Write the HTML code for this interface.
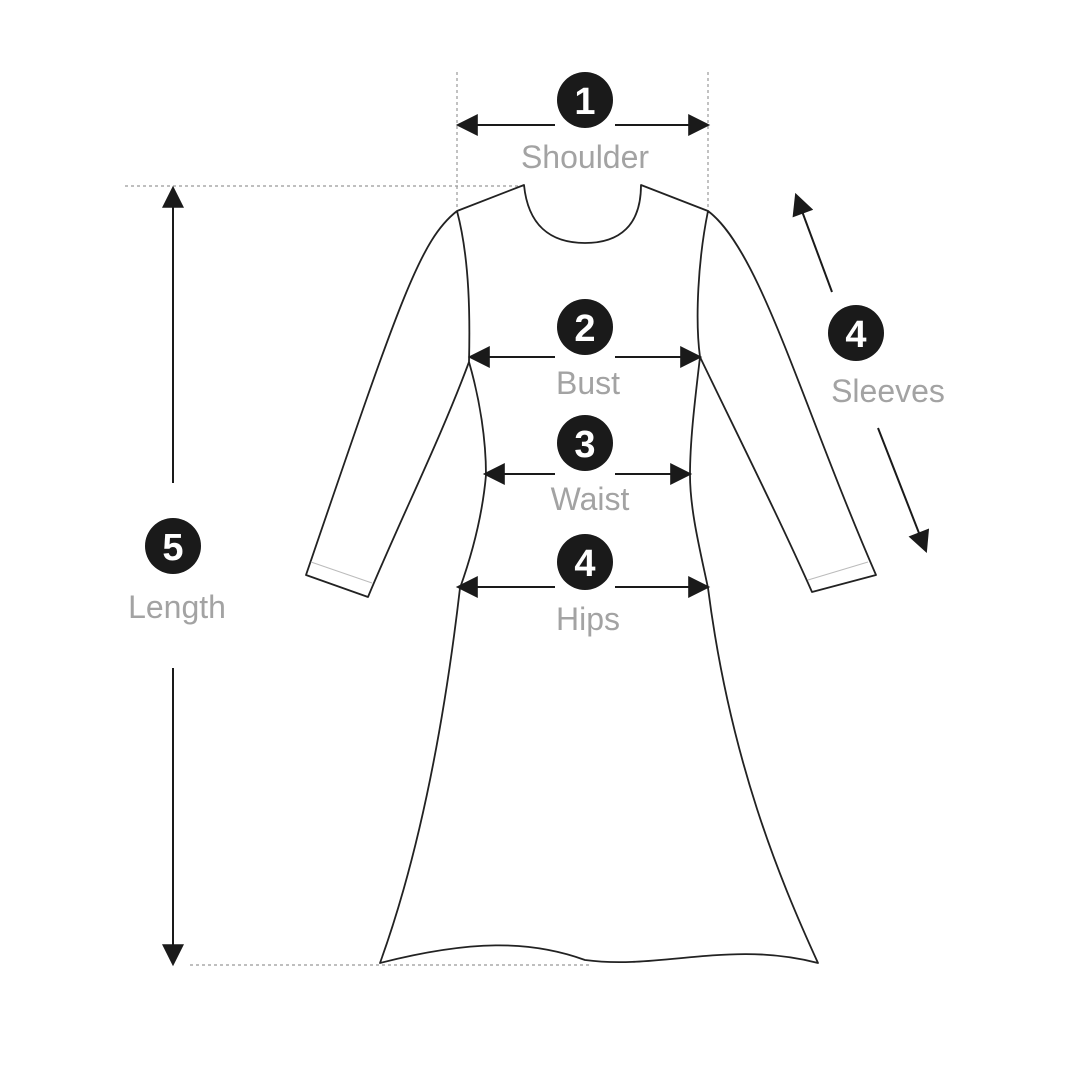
<!DOCTYPE html>
<html><head><style>html,body{margin:0;padding:0;background:#fff}svg{display:block}</style></head><body>
<svg width="1080" height="1080" viewBox="0 0 1080 1080" xmlns="http://www.w3.org/2000/svg" font-family="Liberation Sans, sans-serif">
<defs>
<marker id="a" viewBox="0 0 10 10" refX="9" refY="5" markerWidth="24" markerHeight="22" markerUnits="userSpaceOnUse" orient="auto"><path d="M0,0L10,5L0,10z" fill="#1a1a1a"/></marker>
</defs>
<g stroke="#999" stroke-width="1.2" stroke-dasharray="3,3" fill="none">
<line x1="457" y1="72" x2="457" y2="211"/><line x1="708" y1="72" x2="708" y2="211"/>
<line x1="125" y1="186" x2="524" y2="186"/><line x1="190" y1="965" x2="590" y2="965"/>
</g>
<g stroke="#222" stroke-width="1.8" fill="none" stroke-linejoin="round">
<path d="M457,211 L524,185 C528,225 550,243 585,243 C620,243 641,225 641,185 L708,211"/>
<path d="M457,211 C420,240 400,300 306,575 L368,597 C400,520 440,440 469,362"/>
<path d="M457,211 C470,260 470,320 469,362 C480,400 486,440 486,475 C482,520 470,560 460,588 C440,760 410,880 380,963 C470,940 530,940 585,960 C660,970 730,940 818,963 C780,880 730,760 708,588 C700,550 690,510 690,475 C690,440 695,400 700,357 C740,440 780,520 812,592 L876,575 C800,400 760,250 708,211 C698,260 695,320 700,357"/>
</g>
<g stroke="#bbb" stroke-width="1" fill="none"><line x1="311" y1="562" x2="372" y2="583"/><line x1="808" y1="580" x2="868" y2="562"/></g>
<g stroke="#1a1a1a" stroke-width="2" marker-end="url(#a)">
<line x1="555" y1="125" x2="458" y2="125"/><line x1="615" y1="125" x2="708" y2="125"/>
<line x1="555" y1="357" x2="470" y2="357"/><line x1="615" y1="357" x2="700" y2="357"/>
<line x1="555" y1="474" x2="485" y2="474"/><line x1="615" y1="474" x2="690" y2="474"/>
<line x1="555" y1="587" x2="458" y2="587"/><line x1="615" y1="587" x2="708" y2="587"/>
<line x1="173" y1="483" x2="173" y2="188"/><line x1="173" y1="668" x2="173" y2="964"/>
<line x1="832" y1="292" x2="796" y2="195"/><line x1="878" y1="428" x2="926" y2="551"/>
</g>
<g fill="#1a1a1a"><circle cx="585" cy="100" r="28"/><circle cx="585" cy="327" r="28"/><circle cx="585" cy="443" r="28"/><circle cx="585" cy="562" r="28"/><circle cx="173" cy="546" r="28"/><circle cx="856" cy="333" r="28"/></g>
<g fill="#fff" font-size="38" font-weight="bold" text-anchor="middle">
<text x="585" y="114">1</text><text x="585" y="341">2</text><text x="585" y="457">3</text><text x="585" y="576">4</text><text x="173" y="560">5</text><text x="856" y="347">4</text>
</g>
<g fill="#a3a3a3" font-size="32" text-anchor="middle">
<text x="585" y="168">Shoulder</text><text x="588" y="394">Bust</text><text x="590" y="510">Waist</text><text x="588" y="630">Hips</text><text x="177" y="618">Length</text><text x="888" y="402">Sleeves</text>
</g>
</svg>
</body></html>
